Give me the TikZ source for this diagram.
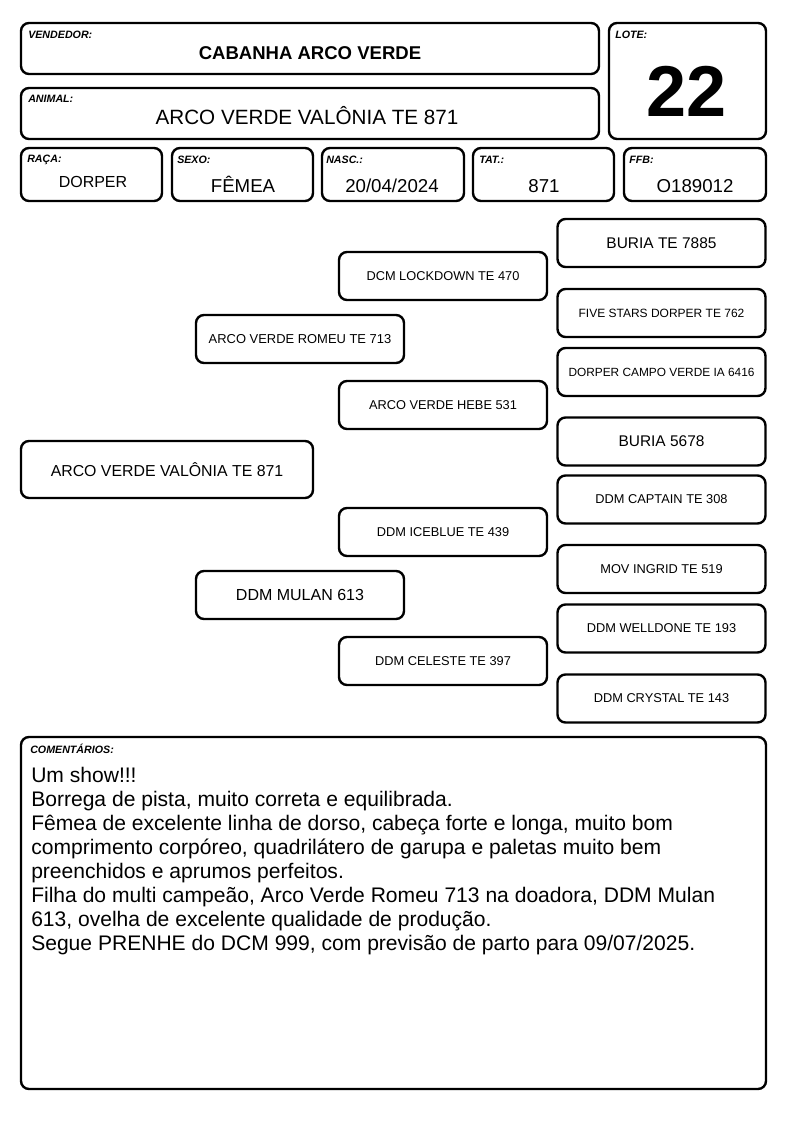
\documentclass[tikz,border=0pt]{standalone}
\usepackage{fontspec}
\setmainfont{Liberation Sans}
\begin{document}
\begin{tikzpicture}[x=0.75pt,y=-0.75pt,
  box/.style={line width=1.8pt,rounded corners=6pt},
  tag/.style={anchor=base west,inner sep=0pt,font=\fontsize{8}{9}\selectfont\bfseries\itshape},
  val/.style={anchor=base,inner sep=0pt,font=\fontsize{14}{16}\selectfont},
  ped/.style={draw,line width=1.8pt,rounded corners=6pt,minimum width=156pt,minimum height=36pt,inner sep=0pt,font=\fontsize{9.6}{11}\selectfont}]
\useasboundingbox (0,0) rectangle (794,1123);

% cabecalho
\draw[box] (21,23) rectangle (599,74);
\draw[box] (21,88) rectangle (599,139);
\draw[box] (609,23) rectangle (766,139);
\node[tag] (tvend) at (28,39) {VENDEDOR:};
\node[tag] (tanim) at (28,103) {ANIMAL:};
\node[tag] (tlote) at (615,39) {LOTE:};
\node[val,font=\fontsize{13.9}{15}\selectfont\bfseries] (vend) at (310,60) {CABANHA ARCO VERDE};
\node[val,font=\fontsize{15.5}{17}\selectfont] (anim) at (307,125) {ARCO VERDE VALÔNIA TE 871};
\node[val,font=\fontsize{54}{60}\selectfont\bfseries] (lote) at (687,117) {22};

% dados
\draw[box] (21,148) rectangle (162,201);
\draw[box] (172,148) rectangle (313,201);
\draw[box] (322,148) rectangle (464,201);
\draw[box] (473,148) rectangle (614,201);
\draw[box] (624,148) rectangle (766,201);
\node[tag] (traca) at (27,163) {RAÇA:};
\node[tag] (tsexo) at (177,164) {SEXO:};
\node[tag] (tnasc) at (326,164) {NASC.:};
\node[tag] (ttat) at (479,164) {TAT.:};
\node[tag] (tffb) at (629,164) {FFB:};
\node[val,font=\fontsize{12}{14}\selectfont] (raca) at (93,188) {DORPER};
\node[val] (sexo) at (243,193) {FÊMEA};
\node[val] (nasc) at (392,193) {20/04/2024};
\node[val] (tat) at (544,193) {871};
\node[val] (ffb) at (695,193) {O189012};

% genealogia
\node[ped,minimum width=219pt,minimum height=42.75pt,font=\fontsize{11.9}{13}\selectfont] (animal) at (167,469.5) {ARCO VERDE VALÔNIA TE 871};
\node[ped,font=\fontsize{9.7}{11}\selectfont] (pai) at (300,339) {ARCO VERDE ROMEU TE 713};
\node[ped,font=\fontsize{12}{14}\selectfont] (mae) at (300,595) {DDM MULAN 613};
\node[ped] (avo1) at (443,276) {DCM LOCKDOWN TE 470};
\node[ped] (avo2) at (443,405) {ARCO VERDE HEBE 531};
\node[ped] (avo3) at (443,532) {DDM ICEBLUE TE 439};
\node[ped] (avo4) at (443,661) {DDM CELESTE TE 397};
\node[ped,font=\fontsize{11.6}{13}\selectfont] (bis1) at (661.5,243) {BURIA TE 7885};
\node[ped,font=\fontsize{9}{11}\selectfont] (bis2) at (661.5,313) {FIVE STARS DORPER TE 762};
\node[ped,font=\fontsize{8.9}{11}\selectfont] (bis3) at (661.5,372) {DORPER CAMPO VERDE IA 6416};
\node[ped,font=\fontsize{11.6}{13}\selectfont] (bis4) at (661.5,441.5) {BURIA 5678};
\node[ped] (bis5) at (661.5,499.5) {DDM CAPTAIN TE 308};
\node[ped] (bis6) at (661.5,569) {MOV INGRID TE 519};
\node[ped] (bis7) at (661.5,628.5) {DDM WELLDONE TE 193};
\node[ped] (bis8) at (661.5,698.5) {DDM CRYSTAL TE 143};

% comentarios
\draw[box] (21,737) rectangle (766,1089);
\node[tag] (tcom) at (30,753) {COMENTÁRIOS:};
\node[anchor=north west,inner sep=0pt,align=left,font=\fontsize{15.8}{18}\selectfont] (com) at (31,766.5) {Um show!!!\\
Borrega de pista, muito correta e equilibrada.\\
Fêmea de excelente linha de dorso, cabeça forte e longa, muito bom\\
comprimento corpóreo, quadrilátero de garupa e paletas muito bem\\
preenchidos e aprumos perfeitos.\\
Filha do multi campeão, Arco Verde Romeu 713 na doadora, DDM Mulan\\
613, ovelha de excelente qualidade de produção.\\
Segue PRENHE do DCM 999, com previsão de parto para 09/07/2025.};
\end{tikzpicture}
\end{document}
